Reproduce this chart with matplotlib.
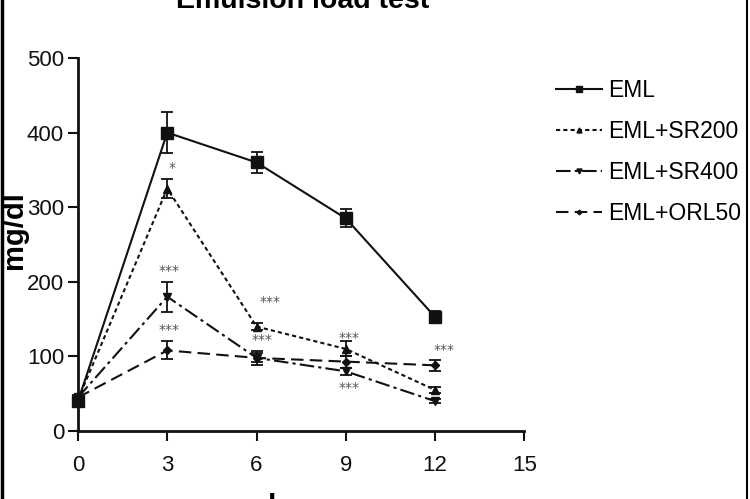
import matplotlib
matplotlib.use('Agg')
import matplotlib.pyplot as plt
from matplotlib.lines import Line2D

# values
hours = [0, 3, 6, 9, 12]
eml = [40, 400, 360, 285, 153]
eml_err = [5, 27, 14, 12, 8]
sr200 = [42, 325, 140, 110, 55]
sr200_err = [3, 13, 5, 10, 4]
sr400 = [45, 180, 98, 80, 40]
sr400_err = [3, 20, 6, 5, 3]
orl50 = [45, 108, 98, 93, 88]
orl50_err = [3, 12, 9, 8, 7]

series_labels = ['EML', 'EML+SR200', 'EML+SR400', 'EML+ORL50']

# significance marks: (x, y, text)
star_x = [3.15, 3.05, 3.05, 6.45, 6.2, 9.1, 9.1, 12.3]
star_y = [352, 215, 136, 173, 122, 125, 58, 109]
star_txt = ['*', '***', '***', '***', '***', '***', '***', '***']

xticks = [0, 3, 6, 9, 12, 15]
yticks = [0, 100, 200, 300, 400, 500]

plt.rcParams['font.family'] = ['Liberation Sans', 'DejaVu Sans']

fig = plt.figure(figsize=(7.5, 4.99), dpi=100)
ax = fig.add_axes([0.104, 0.1363, 0.595, 0.7475])

ink = '#111111'
styles = [
    dict(ls='-', marker='s', ms=8),
    dict(ls=(0, (2, 1.5)), marker='^', ms=6),
    dict(ls=(0, (7, 2, 1.5, 2)), marker='v', ms=6),
    dict(ls=(0, (6, 3)), marker='D', ms=4),
]
data = [(eml, eml_err), (sr200, sr200_err), (sr400, sr400_err), (orl50, orl50_err)]
handles = []
for (vals, errs), st, lab in zip(data, styles, series_labels):
    ax.errorbar(hours, vals, yerr=errs, color=ink, lw=1.5, elinewidth=1.3,
                capsize=4, capthick=1.3, ls=st['ls'], marker=st['marker'],
                ms=st['ms'], clip_on=False, zorder=3)
    handles.append(Line2D([], [], color=ink, lw=1.5, ls=st['ls'],
                          marker=st['marker'], ms=st['ms'] * 0.6))

for x, y, t in zip(star_x, star_y, star_txt):
    ax.text(x, y, t, ha='center', va='center', fontsize=10, color='#555555',
            family='DejaVu Sans')

ax.set_xlim(0, 15)
ax.set_ylim(0, 500)
ax.set_xticks(xticks)
ax.set_yticks(yticks)
ax.tick_params(direction='out', length=7, width=1.5, labelsize=16, colors=ink)
ax.tick_params(axis='x', pad=10)
ax.tick_params(axis='y', pad=3)
for side in ['top', 'right']:
    ax.spines[side].set_visible(False)
for side in ['left', 'bottom']:
    ax.spines[side].set_linewidth(2)
    ax.spines[side].set_color(ink)

ax.set_ylabel('mg/dl', fontsize=21, fontweight='bold')
ax.yaxis.set_label_coords(-0.112, 0.54)

# title and x label are partly cropped in the reference
fig.text(0.404, 1 - 8 / 499, 'Emulsion load test', ha='center', va='baseline',
         fontsize=20.5, fontweight='bold')
fig.text(0.414, 1 - 493 / 499, 'hours', ha='center', va='top',
         fontsize=22, fontweight='bold')

fig.legend(handles, series_labels, loc='upper left', bbox_to_anchor=(0.741, 1 - 79 / 499),
           frameon=False, fontsize=16.5, handlelength=2.0, handletextpad=0.3,
           labelspacing=0.78, borderpad=0, borderaxespad=0)

# side borders of the original panel
fig.add_artist(Line2D([0.002, 0.002], [0, 1], transform=fig.transFigure, color='black', lw=2.5))
fig.add_artist(Line2D([0.996, 0.996], [0, 1], transform=fig.transFigure, color='black', lw=1.5))

fig.savefig('out.png', dpi=100)
